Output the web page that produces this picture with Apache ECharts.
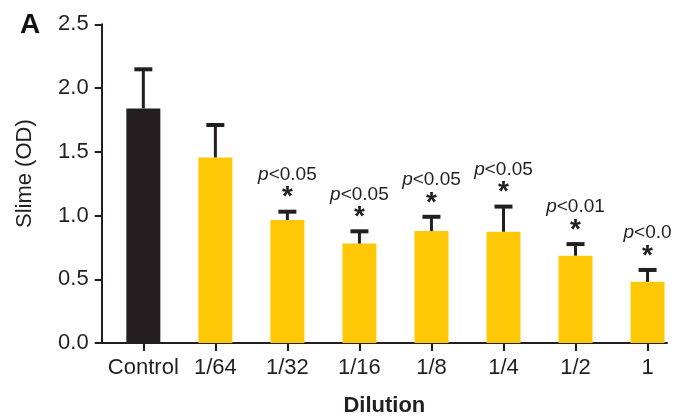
<!DOCTYPE html>
<html>
<head>
<meta charset="utf-8">
<script src="https://cdn.jsdelivr.net/npm/echarts@6/dist/echarts.min.js"></script>
<style>html,body{margin:0;padding:0;background:#fff;}#c{width:682px;height:419px;}</style>
</head>
<body>
<div id="c"></div>
<script>
const categories = ['Control', '1/64', '1/32', '1/16', '1/8', '1/4', '1/2', '1'];
const means = [1.84, 1.456, 0.965, 0.78, 0.878, 0.873, 0.685, 0.48];
const errors = [0.307, 0.254, 0.065, 0.096, 0.112, 0.197, 0.091, 0.093];
const pLabels = ['', '', '0.05', '0.05', '0.05', '0.05', '0.01', '0.0'];
const yTicks = [0, 0.5, 1.0, 1.5, 2.0, 2.5];

const FONT = '"Liberation Sans", Arial, Helvetica, sans-serif';
const INK = '#231f20';
const YELLOW = '#ffc807';
const positions = categories.map((c, i) => i);

const chart = echarts.init(document.getElementById('c'), null, {renderer: 'canvas'});
chart.setOption({
  animation: false,
  backgroundColor: '#fff',
  title: {
    text: 'A', left: 15, top: 6,
    textStyle: {fontFamily: FONT, fontSize: 28, fontWeight: 'bold', color: '#111'}
  },
  grid: {left: 101.7, right: 15, top: 24.3, bottom: 76, containLabel: false, outerBoundsMode: 'none'},
  xAxis: {
    type: 'value', min: -0.578, max: 7.27,
    name: 'Dilution', nameLocation: 'middle', nameGap: 52,
    nameTextStyle: {fontFamily: FONT, fontSize: 22, fontWeight: 'bold', color: INK},
    axisLine: {show: true, onZero: false, lineStyle: {color: INK, width: 2}},
    axisTick: {show: true, customValues: positions, length: 8, lineStyle: {color: INK, width: 2}},
    axisLabel: {
      customValues: positions, margin: 14,
      fontFamily: FONT, fontSize: 22, color: INK,
      formatter: v => categories[Math.round(v)]
    },
    splitLine: {show: false}
  },
  yAxis: {
    type: 'value', min: 0, max: 2.5, interval: 0.5,
    name: 'Slime (OD)', nameLocation: 'middle', nameGap: 66, nameRotate: 90,
    nameTextStyle: {fontFamily: FONT, fontSize: 22, color: INK, padding: [0, 0, 0, 20]},
    axisLine: {show: true, onZero: false, lineStyle: {color: INK, width: 2}},
    axisTick: {show: true, length: 7, lineStyle: {color: INK, width: 2}},
    axisLabel: {
      customValues: yTicks, margin: 13,
      fontFamily: FONT, fontSize: 22, color: INK,
      formatter: v => v.toFixed(1)
    },
    splitLine: {show: false}
  },
  series: [
    {
      type: 'bar',
      barWidth: 34,
      data: means.map((m, i) => [i, m]),
      itemStyle: {color: p => p.dataIndex === 0 ? INK : YELLOW},
      z: 2
    },
    {
      type: 'custom',
      z: 3,
      data: means.map((m, i) => [i, m, m + errors[i]]),
      renderItem: function (params, api) {
        const x = api.value(0);
        const top = api.coord([x, api.value(1)]);
        const cap = api.coord([x, api.value(2)]);
        const children = [
          {type: 'line', shape: {x1: top[0], y1: top[1], x2: cap[0], y2: cap[1]},
           style: {stroke: INK, lineWidth: 3}},
          {type: 'line', shape: {x1: cap[0] - 9, y1: cap[1], x2: cap[0] + 9, y2: cap[1]},
           style: {stroke: INK, lineWidth: 4}}
        ];
        const lab = pLabels[params.dataIndex];
        if (lab) {
          children.push({
            type: 'text', x: cap[0], y: cap[1] - 14,
            style: {text: '*', fontFamily: FONT, fontSize: 28, fontWeight: 'bold', fill: INK,
                    align: 'center', verticalAlign: 'middle'}
          });
          children.push({
            type: 'text', x: cap[0], y: cap[1] - 37,
            style: {
              text: '{i|p}<' + lab,
              fontFamily: FONT, fontSize: 19, fill: INK,
              align: 'center', verticalAlign: 'middle',
              rich: {i: {fontFamily: FONT, fontSize: 19, fontStyle: 'italic', fill: INK}}
            }
          });
        }
        return {type: 'group', children: children};
      }
    }
  ]
});
</script>
</body>
</html>
